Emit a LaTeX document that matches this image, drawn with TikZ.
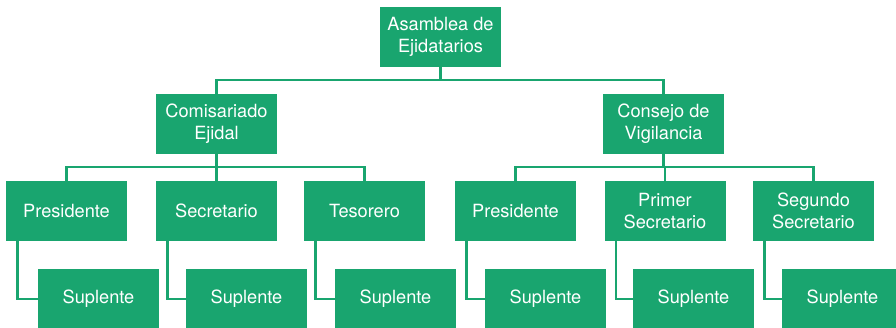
\documentclass[tikz,border=0pt]{standalone}
\usepackage{fontspec}
\setmainfont{TeX Gyre Heros}
\definecolor{eg}{RGB}{25,165,111}
\begin{document}
\begin{tikzpicture}[x=1pt,y=-1pt,
  box/.style={fill=eg,text=white,minimum width=121pt,minimum height=60pt,inner sep=0pt,align=center,
    font=\fontsize{18.2}{22}\selectfont},
  conn/.style={draw=eg,line width=2.6pt}]
\useasboundingbox (0,0) rectangle (896,328);
\node[box] (A) at (440.5,37) {Asamblea de\\Ejidatarios};
\node[box] (C1) at (216.5,124) {Comisariado\\Ejidal};
\node[box] (C2) at (663.5,124) {Consejo de\\Vigilancia};
\node[box] (L1) at (66.5,211) {Presidente};
\node[box] (L2) at (216.5,211) {Secretario};
\node[box] (L3) at (364.5,211) {Tesorero};
\node[box] (R1) at (515.5,211) {Presidente};
\node[box] (R2) at (665,211) {Primer\\Secretario};
\node[box] (R3) at (813.5,211) {Segundo\\Secretario};
\node[box] (S1) at (98.5,299) {Suplente};
\node[box] (S2) at (246.5,299) {Suplente};
\node[box] (S3) at (395.5,299) {Suplente};
\node[box] (S4) at (545.5,299) {Suplente};
\node[box] (S5) at (693.5,299) {Suplente};
\node[box] (S6) at (842.5,299) {Suplente};
\draw[conn] (A.south) -- ++(0,13) -| (C1.north);
\draw[conn] (A.south) -- ++(0,13) -| (C2.north);
\foreach \p/\c in {C1/L1,C1/L2,C1/L3,C2/R1,C2/R2,C2/R3}
  \draw[conn] (\p.south) -- ++(0,13) -| (\c.north);
\foreach \p/\c in {L1/S1,L2/S2,L3/S3,R1/S4,R2/S5,R3/S6}
  \draw[conn] ([xshift=11.5pt]\p.south west) |- (\c.west);
\end{tikzpicture}
\end{document}
